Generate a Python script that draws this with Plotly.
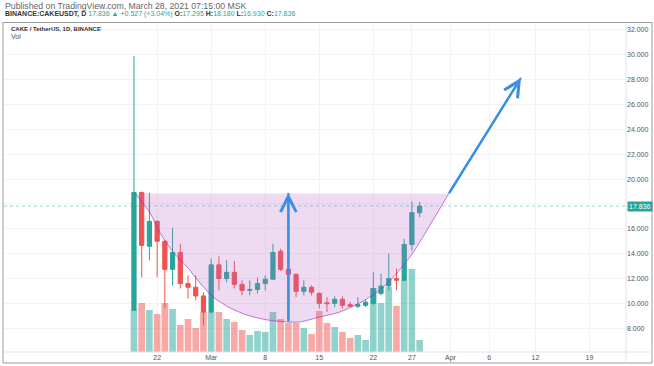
import plotly.graph_objects as go

# ---------------- data ----------------
dates = ["2021-02-19", "2021-02-20", "2021-02-21", "2021-02-22", "2021-02-23", "2021-02-24",
         "2021-02-25", "2021-02-26", "2021-02-27", "2021-02-28", "2021-03-01", "2021-03-02",
         "2021-03-03", "2021-03-04", "2021-03-05", "2021-03-06", "2021-03-07", "2021-03-08",
         "2021-03-09", "2021-03-10", "2021-03-11", "2021-03-12", "2021-03-13", "2021-03-14",
         "2021-03-15", "2021-03-16", "2021-03-17", "2021-03-18", "2021-03-19", "2021-03-20",
         "2021-03-21", "2021-03-22", "2021-03-23", "2021-03-24", "2021-03-25", "2021-03-26",
         "2021-03-27", "2021-03-28"]
open_ = [9.45, 18.92, 14.60, 16.60, 15.00, 12.74, 14.10, 11.60, 11.30, 10.60, 9.30, 13.10,
         12.00, 12.50, 11.53, 11.05, 11.12, 11.60, 11.94, 14.20, 12.74, 12.34, 10.97, 11.30,
         10.80, 10.05, 10.00, 10.33, 9.90, 9.77, 9.85, 10.00, 10.80, 11.40, 12.00, 11.86,
         14.74, 17.295]
high = [29.90, 19.00, 18.90, 16.70, 15.10, 16.10, 14.80, 12.25, 12.25, 10.90, 13.60, 13.78,
        13.46, 13.40, 11.86, 11.86, 12.10, 12.25, 14.80, 14.40, 12.90, 12.40, 11.86, 11.45,
        10.90, 10.50, 10.57, 10.57, 10.10, 10.50, 10.30, 12.50, 12.40, 14.00, 12.80, 15.20,
        18.20, 18.180]
low = [9.40, 12.10, 13.46, 12.10, 9.60, 11.45, 11.20, 10.40, 10.25, 8.25, 9.20, 11.05,
       11.70, 11.20, 10.65, 10.65, 10.80, 11.05, 11.90, 12.60, 12.20, 10.50, 10.65, 10.65,
       9.60, 9.30, 9.70, 9.60, 9.70, 9.60, 9.70, 9.90, 10.65, 11.05, 11.05, 11.80,
       14.26, 16.930]
close = [18.92, 14.67, 16.60, 15.00, 12.74, 14.10, 11.60, 11.30, 10.60, 9.30, 13.10, 12.00,
         12.50, 11.53, 11.05, 11.12, 11.60, 11.94, 14.10, 12.74, 12.34, 10.97, 11.30, 10.90,
         10.00, 9.98, 10.33, 9.85, 9.77, 9.90, 10.10, 11.20, 11.40, 12.00, 11.86, 14.74,
         17.309, 17.836]
volume = [4.3, 4.9, 4.2, 3.8, 4.9, 4.3, 2.7, 3.3, 2.4, 4.0, 4.0, 4.0,
          3.3, 3.0, 2.2, 1.7, 2.1, 2.0, 4.0, 3.3, 2.9, 2.9, 2.4, 1.8,
          4.1, 2.9, 2.5, 2.0, 1.4, 1.7, 1.2, 6.4, 4.9, 6.5, 4.6, 7.2,
          8.3, 1.2]

# cup drawing (date, price)
cup_dates = ["2021-02-19 03:00", "2021-02-21 02:00", "2021-02-22 09:00", "2021-02-24 01:00",
             "2021-02-25 21:00", "2021-02-27 13:00", "2021-03-01 06:00", "2021-03-03 11:00",
             "2021-03-05 15:00", "2021-03-08 06:00", "2021-03-10 20:00", "2021-03-12 12:00",
             "2021-03-15 02:00", "2021-03-17 16:00", "2021-03-20 06:00", "2021-03-22 21:00",
             "2021-03-25 02:00", "2021-03-27 03:00", "2021-03-29 14:00", "2021-03-31 19:00"]
cup_prices = [18.85, 17.28, 15.67, 14.14, 12.93, 11.65, 10.52, 9.63, 9.07, 8.67, 8.51, 8.51,
              8.91, 9.31, 10.04, 11.08, 12.45, 14.06, 16.55, 18.85]

# arrows (tail -> head)
arrow_tail_dates = ["2021-03-11", "2021-03-31 19:00"]
arrow_tail_prices = [8.51, 18.85]
arrow_head_dates = ["2021-03-11", "2021-04-10 03:00"]
arrow_head_prices = [18.89, 28.14]

# axis ticks
x_tickvals = ["2021-02-22", "2021-03-01", "2021-03-08", "2021-03-15", "2021-03-22",
              "2021-03-27", "2021-04-01", "2021-04-06", "2021-04-12", "2021-04-19"]
x_ticktext = ["22", "Mar", "8", "15", "22", "27", "Apr", "6", "12", "19"]
y_tickvals = [8, 10, 12, 14, 16, 18, 20, 22, 24, 26, 28, 30, 32]
y_ticktext = ["8.000", "10.000", "12.000", "14.000", "16.000", "", "20.000", "22.000",
              "24.000", "26.000", "28.000", "30.000", "32.000"]

# ---------------- style ----------------
UP = "#26a69a"
DOWN = "#ef5350"
UP_VOL = "rgba(38,166,154,0.5)"
DOWN_VOL = "rgba(239,83,80,0.5)"
ARROW = "#3a8ee8"
FONT = "Liberation Sans, Arial, sans-serif"
W, H = 654, 366
ML, MR, MT, MB = 4, 28, 23, 14
PW, PH = W - ML - MR, H - MT - MB


def px(x):
    return (x - ML) / PW


def py(y):
    return (H - MB - y) / PH


vol_colors = [UP_VOL if c >= o else DOWN_VOL for o, c in zip(open_, close)]

fig = go.Figure()

fig.add_trace(go.Bar(x=dates, y=volume, marker=dict(color=vol_colors, line=dict(width=0)),
                     yaxis="y", hoverinfo="skip", showlegend=False))

# cup: top edge, then curve filled up to it
cup_top = cup_prices[0]
fig.add_trace(go.Scatter(x=[cup_dates[0], cup_dates[-1]], y=[cup_top, cup_top], yaxis="y2",
                         mode="lines", line=dict(width=0, color="rgba(0,0,0,0)"),
                         hoverinfo="skip", showlegend=False))
fig.add_trace(go.Scatter(x=cup_dates, y=cup_prices, yaxis="y2", mode="lines",
                         line=dict(width=1, color="rgba(156,39,176,0.6)", shape="spline",
                                   smoothing=0.7),
                         fill="tonexty", fillcolor="rgba(186,104,200,0.24)",
                         hoverinfo="skip", showlegend=False))

fig.add_trace(go.Candlestick(x=dates, open=open_, high=high, low=low, close=close,
                             yaxis="y2",
                             increasing=dict(line=dict(color=UP, width=1), fillcolor=UP),
                             decreasing=dict(line=dict(color=DOWN, width=1), fillcolor=DOWN),
                             whiskerwidth=0, showlegend=False))

last_close = close[-1]
fig.add_shape(type="line", xref="paper", yref="y2", x0=0, x1=1, y0=last_close, y1=last_close,
              line=dict(color="rgba(38,166,154,0.45)", width=1, dash="dot"))

for td, tp, hd, hp in zip(arrow_tail_dates, arrow_tail_prices, arrow_head_dates, arrow_head_prices):
    fig.add_shape(type="line", xref="x", yref="y2", x0=td, y0=tp, x1=hd, y1=hp,
                  line=dict(color=ARROW, width=2.2), layer="above")
    fig.add_annotation(x=hd, y=hp, ax=td, ay=tp, xref="x", yref="y2", axref="x", ayref="y2",
                       text="", showarrow=True, arrowhead=5, arrowsize=1.4, arrowwidth=2.2,
                       arrowcolor=ARROW, standoff=0, startstandoff=0)

# frame and separators
fig.add_shape(type="rect", xref="paper", yref="paper", x0=px(3), x1=px(652), y0=py(363), y1=py(22.5),
              line=dict(color="#9a9a9a", width=1), layer="above")
fig.add_shape(type="line", xref="paper", yref="paper", x0=1, x1=1, y0=py(363), y1=1,
              line=dict(color="#e0e3eb", width=1))
fig.add_shape(type="line", xref="paper", yref="paper", x0=0, x1=px(652), y0=0, y1=0,
              line=dict(color="#e0e3eb", width=1))

# price label
fig.add_annotation(xref="paper", yref="y2", x=1, y=last_close, xanchor="left", yanchor="middle",
                   text=f"{last_close:.3f}", showarrow=False, bgcolor=UP, borderpad=1,
                   font=dict(family=FONT, size=7, color="white"), xshift=1)

# header text
chg = close[-1] - close[-2]
pct = chg / close[-2] * 100
teal = UP
line2 = (f"<b>BINANCE:CAKEUSDT, D</b> <span style='color:{teal}'>{close[-1]:.3f} ▲ +{chg:.3f} (+{pct:.2f}%)</span> "
         f"<b>O:</b><span style='color:{teal}'>{open_[-1]:.3f}</span> "
         f"<b>H:</b><span style='color:{teal}'>{high[-1]:.3f}</span> "
         f"<b>L:</b><span style='color:{teal}'>{low[-1]:.3f}</span> "
         f"<b>C:</b><span style='color:{teal}'>{close[-1]:.3f}</span>")
fig.add_annotation(xref="paper", yref="paper", x=px(3), y=py(6), xanchor="left", yanchor="middle",
                   text="Published on TradingView.com, March 28, 2021 07:15:00 MSK", showarrow=False,
                   font=dict(family=FONT, size=8.7, color="#666666"))
fig.add_annotation(xref="paper", yref="paper", x=px(3), y=py(14.5), xanchor="left", yanchor="middle",
                   text=line2, showarrow=False, font=dict(family=FONT, size=7, color="#333333"))
fig.add_annotation(xref="paper", yref="paper", x=px(9), y=py(29), xanchor="left", yanchor="middle",
                   text="<b>CAKE / TetherUS, 1D, BINANCE</b>", showarrow=False,
                   font=dict(family=FONT, size=6, color="#333333"))
fig.add_annotation(xref="paper", yref="paper", x=px(9), y=py(36.5), xanchor="left", yanchor="middle",
                   text="Vol", showarrow=False, font=dict(family=FONT, size=7, color="#555555"))

fig.update_layout(
    width=W, height=H,
    margin=dict(l=ML, r=MR, t=MT, b=MB, pad=0),
    paper_bgcolor="white", plot_bgcolor="white",
    bargap=0.14, boxgap=0.22,
    showlegend=False,
    xaxis=dict(type="date", range=["2021-02-02 04:00", "2021-04-23 17:30"],
               tickvals=x_tickvals, ticktext=x_ticktext, ticks="", showgrid=True,
               gridcolor="#f0f3fa", gridwidth=1, zeroline=False, showline=False,
               tickfont=dict(family=FONT, size=7, color="#555555"),
               rangeslider=dict(visible=False), fixedrange=True),
    yaxis=dict(range=[0, 32.9], visible=False, showgrid=False, zeroline=False, fixedrange=True),
    yaxis2=dict(overlaying="y", side="right", range=[6.09, 32.56], tickvals=y_tickvals,
                ticktext=y_ticktext, ticks="", showgrid=True, gridcolor="#f0f3fa",
                zeroline=False, showline=False,
                tickfont=dict(family=FONT, size=7, color="#555555"), fixedrange=True),
)

fig.write_html("out.html", config={"displayModeBar": False},
               post_script="document.body.style.margin='0';document.body.style.overflow='hidden';")
